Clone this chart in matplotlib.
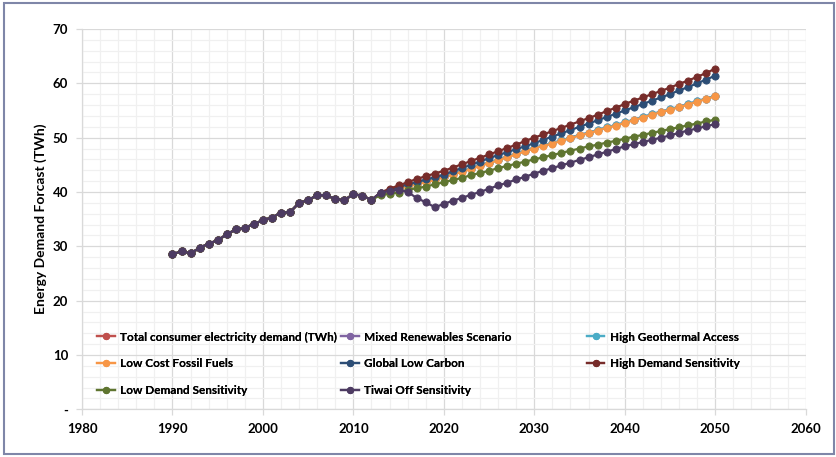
import matplotlib
matplotlib.use("Agg")
import matplotlib.pyplot as plt
from matplotlib.lines import Line2D
from matplotlib.patches import Rectangle
from matplotlib.ticker import MultipleLocator

plt.rcParams['font.family'] = ['Lato', 'DejaVu Sans']

# Historical demand, 1990-2012 (TWh)
hist_years = list(range(1990, 2013))
hist_demand = [28.5, 29.1, 28.7, 29.7, 30.5, 31.1, 32.2, 33.1, 33.4, 34.1, 34.8,
               35.3, 36.2, 36.3, 38.0, 38.5, 39.4, 39.4, 38.7, 38.5, 39.6, 39.3, 38.55]

# Scenario projections, 2013-2050 (TWh)
proj_years = list(range(2013, 2051))
mixed_renewables = [39.8, 40.3, 40.7, 41.1, 41.5, 41.9, 42.3, 42.8, 43.3, 43.8,
                    44.3, 44.9, 45.4, 45.9, 46.5, 47.0, 47.6, 48.1, 48.6, 49.0,
                    49.5, 50.0, 50.5, 50.9, 51.4, 51.9, 52.3, 52.8, 53.3, 53.8,
                    54.3, 54.8, 55.2, 55.7, 56.2, 56.7, 57.2, 57.7]
high_geothermal = [39.8, 40.3, 40.7, 41.1, 41.5, 41.9, 42.3, 42.8, 43.3, 43.8,
                   44.3, 44.9, 45.4, 45.9, 46.5, 47.0, 47.6, 48.1, 48.6, 49.0,
                   49.5, 50.0, 50.5, 50.9, 51.4, 51.9, 52.3, 52.8, 53.3, 53.8,
                   54.3, 54.8, 55.2, 55.7, 56.2, 56.7, 57.2, 57.7]
low_cost_fossil = [39.7, 40.2, 40.6, 41.0, 41.4, 41.8, 42.2, 42.7, 43.2, 43.7,
                   44.2, 44.8, 45.3, 45.8, 46.4, 46.9, 47.5, 48.0, 48.5, 48.9,
                   49.4, 49.9, 50.4, 50.8, 51.3, 51.8, 52.2, 52.7, 53.2, 53.7,
                   54.2, 54.7, 55.1, 55.6, 56.1, 56.6, 57.1, 57.6]
global_low_carbon = [39.8, 40.4, 40.9, 41.4, 41.8, 42.3, 42.7, 43.2, 43.8, 44.4,
                     45.0, 45.6, 46.2, 46.8, 47.3, 47.9, 48.4, 49.0, 49.6, 50.2,
                     50.8, 51.4, 52.0, 52.6, 53.2, 53.8, 54.4, 55.0, 55.6, 56.2,
                     56.8, 57.4, 58.0, 58.7, 59.3, 60.0, 60.7, 61.4]
high_demand = [39.9, 40.6, 41.2, 41.8, 42.4, 42.9, 43.4, 43.9, 44.5, 45.1,
               45.7, 46.3, 46.9, 47.5, 48.1, 48.7, 49.4, 50.0, 50.6, 51.2,
               51.8, 52.4, 53.0, 53.6, 54.2, 54.9, 55.5, 56.2, 56.8, 57.4,
               58.0, 58.6, 59.2, 59.9, 60.5, 61.2, 61.9, 62.7]
low_demand = [39.4, 39.7, 39.9, 40.4, 40.7, 41.0, 41.4, 41.8, 42.2, 42.6,
              43.1, 43.5, 43.9, 44.4, 44.8, 45.2, 45.6, 46.0, 46.4, 46.8,
              47.2, 47.6, 48.0, 48.4, 48.7, 49.1, 49.4, 49.8, 50.2, 50.5,
              50.9, 51.2, 51.6, 51.9, 52.3, 52.6, 53.0, 53.3]
tiwai_off = [39.9, 40.2, 40.4, 40.0, 38.9, 38.1, 37.2, 37.8, 38.4, 38.9,
             39.5, 40.0, 40.6, 41.2, 41.7, 42.3, 42.8, 43.4, 43.9, 44.4,
             44.9, 45.4, 45.9, 46.4, 46.9, 47.4, 47.9, 48.4, 48.8, 49.2,
             49.6, 50.0, 50.4, 50.9, 51.3, 51.7, 52.1, 52.5]

series_names = ["Total consumer electricity demand (TWh)", "Mixed Renewables Scenario",
                "High Geothermal Access", "Low Cost Fossil Fuels", "Global Low Carbon",
                "High Demand Sensitivity", "Low Demand Sensitivity", "Tiwai Off Sensitivity"]
series_colors = ["#C0504D", "#8064A2", "#4BACC6", "#F79646", "#2C4D75",
                 "#772C2A", "#5F7530", "#4D3B62"]
projections = [None, mixed_renewables, high_geothermal, low_cost_fossil,
               global_low_carbon, high_demand, low_demand, tiwai_off]

fig = plt.figure(figsize=(8.37, 4.57), dpi=100)
ax = fig.add_axes([82 / 837, 1 - 409.3 / 457, (805.7 - 82) / 837, (409.3 - 29) / 457])

line_kw = dict(lw=1.6, marker='o', markersize=5.2, markeredgewidth=0.6)
handles = []
for name, color, proj in zip(series_names, series_colors, projections):
    if proj is None:
        xs, ys = hist_years, hist_demand
    else:
        xs = hist_years + proj_years
        ys = hist_demand + proj
    ax.plot(xs, ys, color=color, markerfacecolor=color, markeredgecolor=color, **line_kw)
    handles.append(Line2D([], [], color=color, lw=1.6, marker='o', markersize=4.2,
                          markerfacecolor=color, markeredgecolor=color))

ax.set_xlim(1980, 2060)
ax.set_ylim(0, 70)
ax.xaxis.set_major_locator(MultipleLocator(10))
ax.xaxis.set_minor_locator(MultipleLocator(2))
ax.yaxis.set_major_locator(MultipleLocator(10))
ax.yaxis.set_minor_locator(MultipleLocator(2))
ax.set_yticks(range(0, 71, 10))
ax.set_yticklabels(["-"] + [str(v) for v in range(10, 71, 10)])

ax.grid(which='major', color='#D9D9D9', lw=0.9)
ax.grid(which='minor', color='#F0F0F0', lw=0.9)
ax.set_axisbelow(True)
for side in ('top', 'right'):
    ax.spines[side].set_visible(False)
for side in ('left', 'bottom'):
    ax.spines[side].set_color('#D9D9D9')
    ax.spines[side].set_linewidth(0.9)
ax.tick_params(which='major', length=4, width=0.9, color='#D9D9D9', pad=6,
               labelsize=9.5, labelcolor='black')
ax.tick_params(which='minor', length=0)
for lab in ax.get_xticklabels() + ax.get_yticklabels():
    lab.set_fontweight('bold')

ax.set_ylabel("Energy Demand Forcast (TWh)", fontsize=10, fontweight='bold', labelpad=4)

# legend laid out in three columns, row-major order
col_x = [96 / 837, 340 / 837, 585.7 / 837]
for c in range(3):
    idx = [i for i in range(c, len(series_names), 3)]
    leg = fig.legend([handles[i] for i in idx], [series_names[i] for i in idx],
                     loc='upper left', bbox_to_anchor=(col_x[c] - 0.003, 1 - 328 / 457),
                     frameon=False, handlelength=1.5, handletextpad=0.45,
                     labelspacing=1.32, borderaxespad=0, borderpad=0.3,
                     prop={'size': 8.5, 'weight': 'bold'})
    fig.add_artist(leg)

# outer frame
fig.patches.append(Rectangle((4 / 837, 3 / 457), 830 / 837, 451 / 457,
                             transform=fig.transFigure, fill=False,
                             edgecolor='#7F86A8', lw=1.5))

fig.savefig("out.png", dpi=100)
